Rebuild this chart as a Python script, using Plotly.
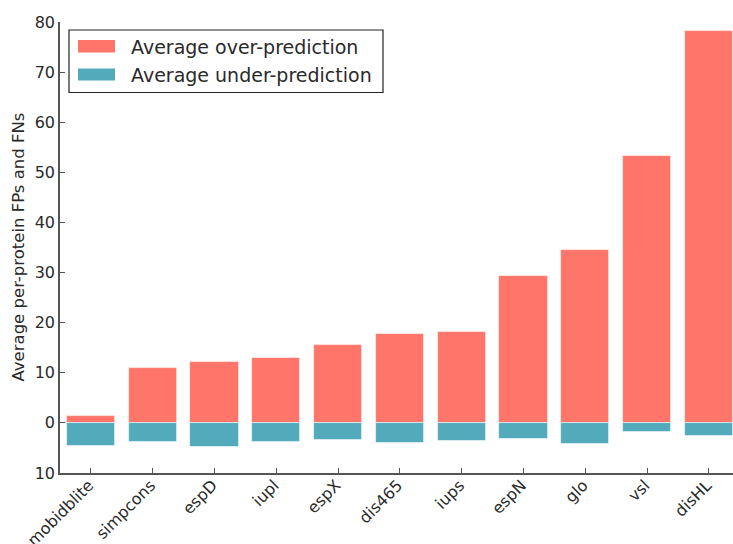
import plotly.graph_objects as go

# Per-protein averages for each predictor
predictors = ["mobidblite", "simpcons", "espD", "iupl", "espX", "dis465",
              "iups", "espN", "glo", "vsl", "disHL"]
over_prediction = [1.4, 10.9, 12.1, 13.0, 15.5, 17.7, 18.2, 29.3, 34.6, 53.2, 78.3]
under_prediction = [4.6, 3.9, 4.9, 3.8, 3.4, 4.0, 3.6, 3.2, 4.3, 1.9, 2.7]

y_tick_values = [-10, 0, 10, 20, 30, 40, 50, 60, 70, 80]
y_tick_labels = ["10", "0", "10", "20", "30", "40", "50", "60", "70", "80"]

over_label = "Average over-prediction"
under_label = "Average under-prediction"
y_title = "Average per-protein FPs and FNs"

RED = "#FF756A"
TEAL = "#52AABB"
AXIS = "#555555"
TEXT = "#2a2a2a"
FONT = "DejaVu Sans"

W, H = 733, 544
ML, MR, MT, MB = 60, 0, 22, 71
PW, PH = W - ML - MR, H - MT - MB


def px(x):
    return (x - ML) / PW


def py(y):
    return (H - MB - y) / PH


fig = go.Figure()
fig.add_trace(go.Bar(
    x=list(range(len(predictors))), y=over_prediction, name=over_label,
    marker=dict(color=RED, line=dict(color="rgba(255,255,255,0.7)", width=0.8)),
    width=0.78, showlegend=False,
))
fig.add_trace(go.Bar(
    x=list(range(len(predictors))), y=[-v for v in under_prediction], name=under_label,
    marker=dict(color=TEAL, line=dict(color="rgba(255,255,255,0.7)", width=0.8)),
    width=0.78, showlegend=False,
))

# Legend box drawn as shapes and text
shapes = [
    dict(type="rect", xref="paper", yref="paper",
         x0=px(69), x1=px(383), y0=py(30), y1=py(92.5),
         line=dict(color="#222222", width=1.2), fillcolor="white", layer="above"),
    dict(type="rect", xref="paper", yref="paper",
         x0=px(78), x1=px(115), y0=py(40), y1=py(52.5),
         line=dict(width=0), fillcolor=RED, layer="above"),
    dict(type="rect", xref="paper", yref="paper",
         x0=px(78), x1=px(115), y0=py(68.5), y1=py(80.5),
         line=dict(width=0), fillcolor=TEAL, layer="above"),
]
annotations = [
    dict(text=over_label, xref="paper", yref="paper", x=px(129), y=py(46.5),
         xanchor="left", yanchor="middle", showarrow=False,
         font=dict(family=FONT, size=19, color=TEXT)),
    dict(text=under_label, xref="paper", yref="paper", x=px(129), y=py(75),
         xanchor="left", yanchor="middle", showarrow=False,
         font=dict(family=FONT, size=19, color=TEXT)),
    dict(text=y_title, xref="paper", yref="paper", x=px(18), y=0.5,
         xanchor="center", yanchor="middle", textangle=-90, showarrow=False,
         font=dict(family=FONT, size=16.5, color=TEXT)),
]

fig.update_layout(
    width=W, height=H,
    margin=dict(l=ML, r=MR, t=MT, b=MB, pad=0),
    paper_bgcolor="white", plot_bgcolor="white",
    barmode="overlay", bargap=0,
    shapes=shapes, annotations=annotations,
    font=dict(family=FONT, color=TEXT),
)
fig.update_xaxes(
    range=[-0.5, 10.39], tickmode="array",
    tickvals=list(range(len(predictors))), ticktext=predictors,
    tickangle=-45, tickfont=dict(family=FONT, size=16, color=TEXT),
    ticklabelshift=-2, ticklabelstandoff=-5,
    showline=True, linecolor=AXIS, linewidth=1.5,
    ticks="inside", ticklen=5, tickcolor=AXIS, tickwidth=1,
    showgrid=False, zeroline=False, automargin=False,
)
fig.update_yaxes(
    range=[-10, 80], tickmode="array",
    tickvals=y_tick_values, ticktext=y_tick_labels,
    tickfont=dict(family=FONT, size=16, color=TEXT),
    showline=True, linecolor=AXIS, linewidth=1.5,
    ticks="inside", ticklen=5, tickcolor=AXIS, tickwidth=1,
    showgrid=False, zeroline=False, automargin=False,
)

fig.write_html("out.html")
